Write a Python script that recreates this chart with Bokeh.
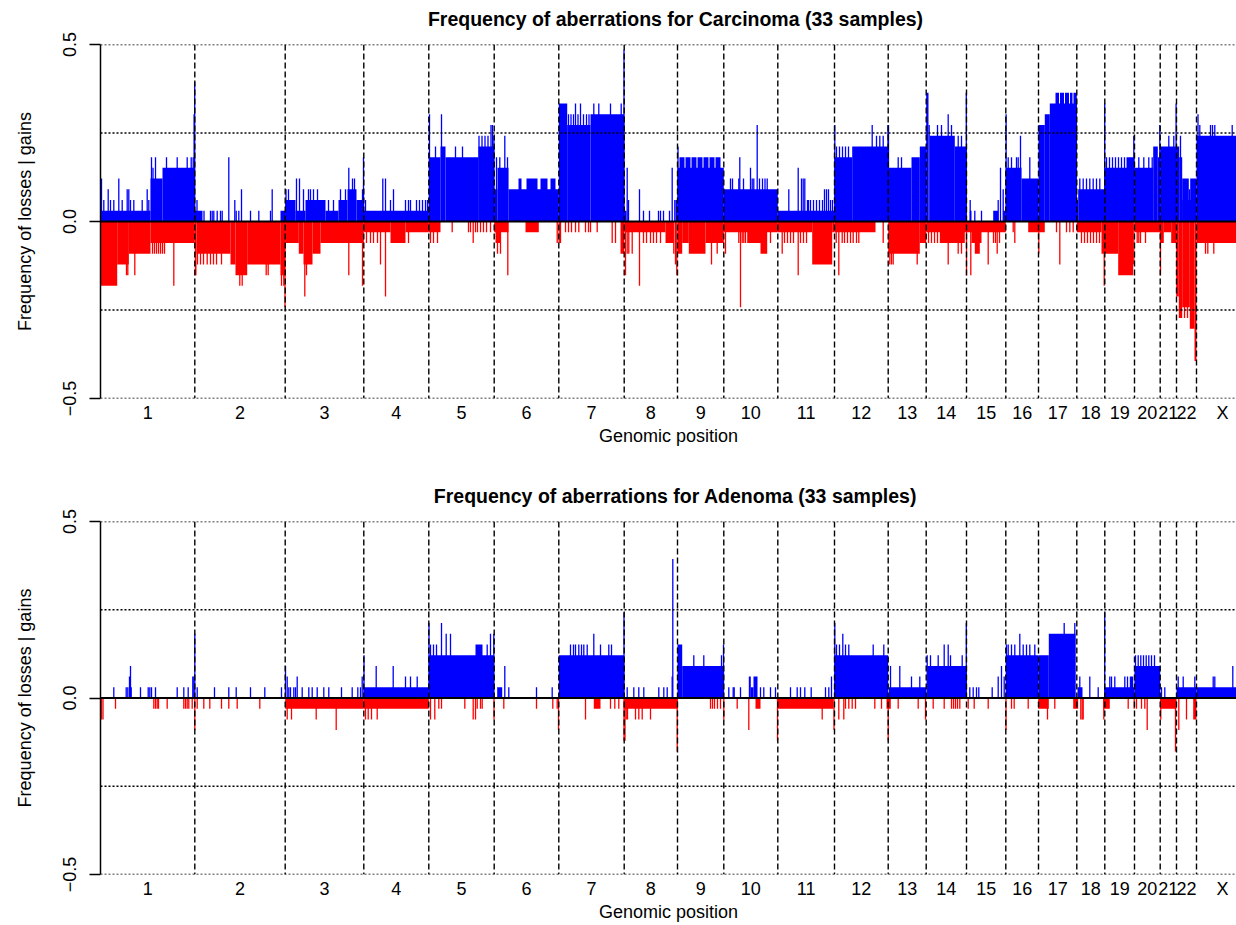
import numpy as np
from bokeh.plotting import figure
from bokeh.models import Range1d, FixedTicker, Span, Label
from bokeh.layouts import column
from bokeh.embed import file_html
from bokeh.resources import INLINE

N_SAMPLES = 33
CHROMS = ["1", "2", "3", "4", "5", "6", "7", "8", "9", "10", "11", "12",
          "13", "14", "15", "16", "17", "18", "19", "20", "21", "22", "X"]
# chromosome extents on the genome-wide index axis
CHROM_LEN = [94.3, 90.4, 78.6, 65.0, 65.4, 64.6, 65.4, 53.3, 46.3, 54.0, 56.7, 53.7,
             38.0, 40.3, 39.3, 32.7, 38.3, 28.0, 29.7, 25.7, 16.3, 20.0, 52.0]
VIEW_END = 1136

TITLES = ["Frequency of aberrations for Carcinoma (33 samples)",
          "Frequency of aberrations for Adenoma (33 samples)"]
Y_TICKS = [-0.5, 0.0, 0.5]
Y_TICK_LABELS = ["\u22120.5", "0.0", "0.5"]
GRID_Y = [0.5, 0.25, -0.25, -0.5]

# (start, end, number of samples) plateaus and (position, number of samples) single probes
CARC_GAIN_SEG = [
    (0, 50, 1), (50, 62, 4), (62, 94.3, 5),
    (94.3, 102, 1), (180, 184.7, 1),
    (184.7, 195, 2), (195, 205, 1), (205, 225, 2), (225, 238, 1), (238, 247, 2), (247, 256, 3), (256, 263.3, 2),
    (263.3, 328.3, 1),
    (328.3, 340, 6), (340, 345, 7), (345, 378, 6), (378, 393.7, 7),
    (393.7, 397, 3), (397, 408, 5), (408, 458.3, 3), (418, 421, 4), (426, 437, 4), (440, 447, 4), (450, 455, 4),
    (458.3, 466.7, 11), (466.7, 490, 9), (490, 523.7, 10),
    (523.7, 526, 1), (575, 577, 2),
    (577, 623.3, 5), (579, 584, 6), (585, 590, 6), (591, 596, 6), (597, 602, 6), (603, 608, 6), (609, 614, 6), (615, 620, 6),
    (623.3, 677.3, 3),
    (677.3, 734, 1),
    (734, 751.7, 6), (751.7, 787.7, 7),
    (787.7, 811, 5), (811, 819.3, 6), (819.3, 825.7, 7),
    (825.7, 828, 12), (828, 829.3, 9), (829.3, 854.3, 8), (854.3, 866, 7),
    (869.3, 871, 1), (892.7, 897.7, 1), (902.7, 905.3, 1),
    (905.3, 921, 5), (921, 938, 4),
    (938, 944.3, 9), (944.3, 949.3, 10), (949.3, 976.3, 11), (955, 958.5, 12), (959.5, 963.5, 12),
    (964.5, 968.5, 12), (969.5, 972, 12), (973, 976.3, 12),
    (976.3, 977.7, 2), (977.7, 1004.3, 3),
    (1004.3, 1034, 5), (1026, 1034, 6),
    (1034, 1052.7, 5), (1052.7, 1057.3, 7), (1057.3, 1059.7, 6),
    (1059.7, 1075.7, 7),
    (1075.7, 1078.7, 7), (1078.7, 1081.7, 6), (1081.7, 1096, 2), (1081.7, 1088.3, 4), (1088.3, 1089.7, 3), (1089.7, 1096, 4),
    (1096, 1148, 8),
]
CARC_GAIN_SPK = [
    (1, 4), (3.3, 2), (7.7, 3), (10, 2), (13.3, 2), (18.3, 4), (21.7, 2), (26.7, 3), (28.3, 3), (30, 2), (33.3, 2),
    (41.7, 2), (46.7, 3), (48.3, 2), (51, 6), (52.5, 5), (55, 6), (66, 6), (76.7, 6), (86.7, 6), (90.7, 6), (92.7, 6),
    (93.6, 10), (94.2, 13),
    (96.5, 2), (103.5, 1), (110, 1), (111.7, 1), (113.3, 1), (116.7, 1), (120, 1), (121.7, 1), (128.3, 6), (134.3, 2),
    (135.7, 1), (138.3, 1), (141, 3), (150, 1), (158.3, 1), (170, 1), (171.7, 3),
    (185.5, 3), (188, 3), (196, 4), (199, 4), (203, 3), (208, 3), (210, 3), (213, 3), (217, 3), (228, 2), (233, 2),
    (240, 3), (245, 3), (248.3, 5), (252, 4), (254, 4), (262, 3), (263, 6),
    (265, 2), (282.3, 4), (285, 4), (290, 2), (293, 3), (305, 2), (308, 2), (310, 2), (316, 2), (319, 2), (322, 2),
    (325, 2), (327, 2),
    (329, 10), (335, 7), (341, 10), (355, 7), (362, 7), (378.5, 8), (381.5, 8), (384.5, 8), (387.5, 8), (390.5, 9),
    (392, 9), (393.4, 8),
    (396, 6), (399.3, 6), (404.3, 8), (407, 6),
    (468, 10), (470.5, 10), (473, 10), (475, 11), (477.5, 10), (480, 11), (483, 10), (486, 10), (488.5, 10),
    (493.3, 11), (498.3, 11), (510, 11), (520.7, 11), (523.5, 16),
    (526.7, 5), (528, 2), (539, 3), (543, 1), (549, 1), (558, 1), (560, 1), (563, 1), (569, 1), (571.7, 5), (574.3, 2),
    (577.5, 7),
    (630, 4), (632, 4), (638.3, 4), (639.3, 6), (643, 4), (650, 5), (651.7, 4), (653.3, 4), (656.7, 9), (659, 4),
    (662, 4), (664.5, 4), (666.7, 4),
    (688.3, 3), (697.7, 5), (701, 4), (702.7, 4), (704.3, 4), (707, 2), (708, 2), (710, 2), (713, 2), (716, 2),
    (719, 2), (722, 2), (724, 3), (726, 3), (728, 3), (730, 2), (732, 2),
    (734.3, 9), (736, 7), (739, 7), (742, 7), (745, 7), (748, 7), (771.7, 9), (776, 8), (779.3, 8), (782.7, 8),
    (787.5, 9),
    (788, 9), (797.7, 6), (801, 6),
    (837, 9), (841, 9), (847.7, 10), (851, 9), (857.7, 8), (861, 8), (865.8, 12),
    (869.7, 2), (874.3, 1), (881, 1), (897.7, 2), (900, 5), (902.7, 3),
    (905.6, 10), (907.7, 6), (911, 6), (916, 6), (917.7, 6), (920, 8), (929.3, 6),
    (979.3, 4), (982.7, 4), (986, 4), (989.3, 4), (992.7, 4), (996, 4), (999.3, 4), (1004.2, 11),
    (1006, 6), (1009, 6), (1012, 6), (1015, 6), (1018, 6), (1021, 6), (1024, 6), (1033.3, 8),
    (1038.3, 6), (1043.3, 6), (1048.3, 6), (1051.7, 6), (1059.3, 9),
    (1068.3, 8), (1073.3, 8), (1075.6, 11),
    (1080, 8),
    (1097.5, 10), (1099.3, 9), (1110, 9), (1112, 9), (1114.3, 9), (1131.7, 9),
]
CARC_LOSS_SEG = [
    (0, 16.7, 6), (16.7, 28.3, 4), (28.3, 50, 3), (50, 94.3, 2),
    (94.3, 96, 5), (96, 130, 3), (130, 135, 4), (135, 146.7, 5), (146.7, 180, 4), (180, 184.7, 5),
    (184.7, 198.3, 2), (198.3, 203, 3), (203, 212, 4), (212, 220, 3), (220, 263.3, 2),
    (263.3, 290, 1), (290, 305, 2), (305, 328.3, 1),
    (328.3, 340, 1),
    (393.7, 408, 1), (395, 400, 2), (425, 438.3, 1),
    (520, 523.7, 3),
    (523.7, 565, 1), (565, 573.3, 2),
    (577, 581.7, 3), (581.7, 588.3, 2), (588.3, 605, 3), (605, 623.3, 2),
    (623.3, 677.3, 1), (646.7, 665, 2), (660, 666.7, 3),
    (677.3, 711.7, 1), (711.7, 731.7, 4), (731.7, 734, 1),
    (734, 775, 1),
    (787.7, 819.3, 3), (819.3, 825.7, 2),
    (825.7, 866, 1), (839.3, 864.3, 2),
    (866, 905.3, 1), (871, 881, 2), (874.3, 879.3, 3),
    (927.7, 944.3, 1),
    (976.3, 1001, 1), (1001, 1004.3, 3),
    (1004.3, 1017.7, 3), (1017.7, 1032.7, 5),
    (1034, 1059.7, 1),
    (1059.7, 1063.3, 2), (1063.3, 1070.7, 1), (1070.7, 1075.7, 2),
    (1075.7, 1078.3, 7), (1078.3, 1081.7, 9), (1081.7, 1089.3, 8), (1089.3, 1094, 10), (1094, 1096, 13),
    (1096, 1148, 2),
]
CARC_LOSS_SPK = [
    (26, 5), (27.3, 5), (34.3, 5), (52, 3), (54, 3), (56, 3), (58, 3), (60, 3), (62, 3), (64, 3), (73.3, 6),
    (97, 4), (100, 4), (103, 4), (106.7, 4), (110, 4), (113, 4), (116, 4), (121, 4), (139.3, 6), (141.7, 6),
    (165.7, 5), (167.7, 5), (181, 6), (183.3, 6), (184.5, 8),
    (204.3, 7), (206, 5), (248.3, 5), (262, 6),
    (266, 2), (270, 2), (273, 2), (277, 2), (280, 4), (285, 7), (308, 2),
    (330, 2), (333, 2), (337, 2), (351.7, 1), (368, 1), (370, 1), (372.7, 2), (375, 1), (377, 1), (380, 1), (383, 1),
    (386, 1), (390, 1),
    (397, 3), (400, 3), (407.3, 5), (456.7, 2),
    (458.7, 2), (460, 2), (465, 1), (468, 1), (471, 1), (475, 1), (478.3, 1), (485, 1), (488, 1), (490, 1),
    (496.7, 1), (511.7, 2), (515, 2),
    (525, 5), (526.7, 3), (528.3, 3), (531.7, 3), (539, 6), (543, 2), (546, 2), (550, 2), (553, 2), (556, 2),
    (560, 2), (573.3, 3), (575, 4), (576.3, 5),
    (611, 4), (616.7, 3),
    (625, 3), (638.3, 2), (640, 8), (641.7, 2), (643.3, 2), (645, 2), (670, 2),
    (681.7, 3), (684, 2), (687, 2), (690, 2), (693, 2), (697.7, 5), (700, 2), (703, 2), (706, 2),
    (735.7, 2), (738.3, 5), (741.7, 2), (744, 2), (747, 2), (750, 2), (752.7, 2), (756, 2), (758.3, 2), (782.7, 2),
    (789.3, 4), (791, 4), (792.7, 4), (816.7, 4),
    (828, 2), (831, 2), (834, 2), (837, 2), (847.7, 4), (857.7, 3), (861, 3), (866, 5),
    (870.3, 5), (887.7, 4), (893, 2), (895, 2), (896.7, 3), (899, 2),
    (912.7, 1), (914.3, 2), (938.3, 3),
    (956, 1), (959.3, 4), (966, 1), (969.3, 1), (972.7, 1),
    (981, 2), (984, 2), (987, 2), (990, 2), (993, 2), (996, 2), (999, 2), (1003.7, 6),
    (1033.3, 4),
    (1036.7, 2), (1038.3, 2), (1040, 2), (1045, 2),
    (1060, 5),
    (1084, 9), (1087, 9),
    (1105, 3), (1107.3, 3), (1113.3, 3),
]

ADEN_GAIN_SEG = [
    (263.3, 328.3, 1),
    (328.3, 393.7, 4), (375, 382, 5),
    (396.7, 401.7, 1),
    (458.3, 523.7, 4),
    (577, 581.7, 5), (581.7, 623.3, 3),
    (648.3, 650.3, 2), (650.3, 653, 1), (653, 657, 2),
    (734, 787.7, 4),
    (788.3, 825.7, 1),
    (826.7, 866, 3),
    (905.3, 938, 4),
    (938, 948.3, 4), (948.3, 975, 6),
    (977, 982, 1),
    (1004.3, 1034, 1), (1029.3, 1032.7, 2),
    (1034, 1059.7, 3),
    (1076, 1096, 1),
    (1096, 1148, 1),
]
ADEN_GAIN_SPK = [
    (13.3, 1), (25.7, 1), (27.3, 1), (29, 2), (30, 3), (30.7, 1), (40, 1), (47.7, 1), (49.3, 1), (51, 1), (55, 1),
    (76.7, 1), (83.3, 1), (87.7, 1), (92.3, 2), (93.3, 2), (94.3, 6),
    (96.7, 1), (114, 1), (128.3, 1), (135.7, 1), (150, 1), (164.3, 1), (181, 1),
    (185, 3), (186.7, 2), (188.3, 1), (190, 1), (193.3, 1), (195, 1), (196.7, 2), (201.7, 1), (208.3, 1),
    (211.7, 1), (216.7, 1), (223.3, 1), (228.3, 1), (241, 1), (251.7, 1), (257.3, 1), (260, 1), (261.7, 2),
    (263.5, 4), (275.7, 3), (292.7, 3), (305, 2), (310, 2), (316.7, 2),
    (328.5, 7), (330, 5), (333, 5), (336, 5), (341, 7), (345.7, 6), (350, 6), (386.7, 5), (390, 6), (393.3, 6),
    (404.3, 3), (408.3, 1), (436, 1), (451.7, 1),
    (470, 5), (473, 5), (475, 5), (478.3, 5), (481, 5), (483.3, 5), (486.7, 5), (493.3, 6), (500, 5), (508.3, 5),
    (511, 5), (523.5, 8),
    (526.7, 1), (533.3, 1), (538.3, 1), (543.3, 1), (558.3, 1), (563.3, 1), (566.7, 1), (571.7, 2), (572.3, 13),
    (593.3, 4), (603.3, 4), (621, 4), (623, 5),
    (628.3, 1), (632.7, 1), (633.7, 1), (640, 1), (660, 1), (663.3, 1), (670, 1), (675, 1),
    (690, 1), (696.7, 1), (700, 1), (704.3, 1), (710.7, 1), (725, 1), (728.3, 1), (731, 2),
    (734.3, 7), (736, 5), (739, 5), (742.3, 6), (745, 5), (748.3, 5), (772.7, 5), (783.3, 5),
    (790, 3), (799.3, 3), (811, 2), (819.3, 2),
    (826.7, 4), (830, 4), (837.7, 4), (843.7, 5), (847.7, 5), (850, 4), (861.7, 4), (865.8, 7),
    (869.3, 1), (872.7, 1), (876, 1), (878.3, 1), (891.7, 1), (897.7, 2), (901, 3), (903.7, 2),
    (906, 5), (907.7, 5), (911, 5), (914.3, 5), (919.3, 6), (922.7, 5), (926, 5), (929.3, 5), (934.3, 5),
    (963.7, 7), (974.3, 7),
    (979.3, 2), (989.3, 2), (997.7, 1), (1004.2, 8),
    (1009.3, 2), (1011, 2), (1014.3, 2), (1024.3, 2), (1027, 2),
    (1035, 4), (1037.7, 4), (1040.3, 4), (1043, 4), (1045.7, 4), (1048.3, 4), (1051, 4), (1054, 4),
    (1061, 1), (1064.3, 1),
    (1077.7, 2), (1082.7, 2), (1094.3, 2),
    (1112.7, 2), (1114.3, 2), (1132.3, 3),
]
ADEN_LOSS_SEG = [
    (184.7, 263.3, 1),
    (263.3, 328.3, 1),
    (493.3, 500, 1),
    (523.7, 577, 1),
    (655, 660, 1),
    (677.3, 733, 1),
    (786, 790.3, 1),
    (937.7, 948.3, 1),
    (972.7, 977.7, 1),
    (1002.7, 1009.3, 1),
    (1059.7, 1076, 1),
    (1092.7, 1096, 2),
]
ADEN_LOSS_SPK = [
    (1, 2), (2.5, 2), (15, 1), (53.3, 1), (55, 1), (56.7, 1), (58, 1), (66.7, 1), (83.3, 1), (85, 1), (86.7, 1),
    (88.3, 1), (91.7, 1), (94.3, 3),
    (96.7, 1), (103.3, 1), (109.3, 1), (121, 1), (128.3, 1), (136.7, 1), (159.3, 1),
    (186.7, 2), (191, 2), (215.7, 2), (235.7, 3),
    (265, 2), (267.7, 2), (271, 2), (276.7, 2),
    (330, 2), (334.3, 2), (338.3, 1), (341, 1), (364.3, 1), (372.7, 2), (375, 2), (376.7, 1), (380, 1), (381.7, 1),
    (393.5, 2), (403.3, 1), (436, 1), (452.3, 1), (456.7, 1), (458, 3),
    (485, 2), (510, 1), (514.3, 1), (518.3, 1), (523.5, 4),
    (524.5, 4), (525.7, 2), (527, 2), (535, 2), (538.3, 2), (541.7, 2), (550, 2), (576.7, 5),
    (610, 1), (612, 1), (614, 1), (617, 1), (620, 1), (623.3, 2),
    (636.7, 1), (648.3, 3), (677, 4),
    (721.7, 2), (733.5, 3),
    (738.3, 2), (743.3, 2), (745, 1), (748.3, 1), (751.7, 1), (755, 1), (774.3, 1), (781, 1),
    (787.7, 4), (797.7, 1), (817.7, 1), (825, 2),
    (832.7, 1), (843.7, 1), (851, 1), (853, 1), (855, 1), (857, 1), (859.3, 1),
    (867.7, 1), (873.7, 1), (887.7, 1),
    (905.5, 3), (911, 1), (913.7, 1), (927.7, 1),
    (947, 2), (954.3, 1),
    (980.3, 2), (981.7, 2), (982.7, 2),
    (1003.3, 2), (1027.7, 1), (1033.7, 1),
    (1036, 1), (1041, 1), (1044.3, 1), (1046.7, 3),
    (1060.3, 2),
    (1075, 5), (1078.3, 3), (1086, 2),
]

FONT = "Liberation Sans"
GAIN_COLOR = "#0000FF"
LOSS_COLOR = "#FF0000"
PAGE_W = 1236
LEFT = 100

bounds = np.concatenate([[0.0], np.cumsum(CHROM_LEN)])
centers = [float(v) for v in (bounds[:-1] + bounds[1:]) / 2]


def make_title(text, height, center_from_top):
    # title strip: its frame spans page pixels LEFT..PAGE_W, so x is in page pixels
    t = figure(width=PAGE_W, height=height, x_range=Range1d(LEFT, PAGE_W), y_range=Range1d(0, height),
               output_backend="svg", toolbar_location=None, x_axis_location=None, y_axis_location=None,
               min_border_left=LEFT, min_border_right=0, min_border_top=0, min_border_bottom=0)
    t.outline_line_color = None
    t.xgrid.visible = False
    t.ygrid.visible = False
    t.add_layout(Label(x=675, y=height - center_from_top, text=text, text_align="center",
                       text_baseline="middle", text_font=FONT, text_font_size="19.5px",
                       text_font_style="bold", text_color="black"))
    return t


def make_panel(gain_seg, gain_spk, loss_seg, loss_spk, height, top, bottom):
    p = figure(width=PAGE_W, height=height, x_range=Range1d(0, VIEW_END), y_range=Range1d(-0.5, 0.5),
               output_backend="svg", toolbar_location=None,
               min_border_left=LEFT, min_border_right=0, min_border_top=top, min_border_bottom=bottom)
    p.outline_line_color = None
    p.xgrid.visible = False
    p.ygrid.visible = False

    # gains
    p.quad(left=[s[0] for s in gain_seg], right=[s[1] for s in gain_seg],
           bottom=0, top=[s[2] / N_SAMPLES for s in gain_seg],
           fill_color=GAIN_COLOR, line_color=None)
    p.segment(x0=[s[0] for s in gain_spk], x1=[s[0] for s in gain_spk], y0=0,
              y1=[s[1] / N_SAMPLES for s in gain_spk], line_color=GAIN_COLOR, line_width=1.3)
    # losses
    p.quad(left=[s[0] for s in loss_seg], right=[s[1] for s in loss_seg],
           top=0, bottom=[-s[2] / N_SAMPLES for s in loss_seg],
           fill_color=LOSS_COLOR, line_color=None)
    p.segment(x0=[s[0] for s in loss_spk], x1=[s[0] for s in loss_spk], y0=0,
              y1=[-s[1] / N_SAMPLES for s in loss_spk], line_color=LOSS_COLOR, line_width=1.3)

    for y in GRID_Y:
        p.add_layout(Span(location=y, dimension="width", line_color="black",
                          line_dash="2 2", line_width=1.7))
    for b in bounds[1:-1]:
        p.add_layout(Span(location=float(b), dimension="height", line_color="black",
                          line_dash="6 3", line_width=1.4))
    p.add_layout(Span(location=0, dimension="width", line_color="black", line_width=2))

    xa = p.xaxis[0]
    xa.ticker = FixedTicker(ticks=centers)
    xa.major_label_overrides = {c: n for c, n in zip(centers, CHROMS)}
    xa.axis_line_color = None
    xa.major_tick_line_color = None
    xa.major_tick_out = 0
    xa.major_tick_in = 0
    xa.minor_tick_line_color = None
    xa.minor_tick_out = 0
    xa.major_label_standoff = 4
    xa.major_label_text_color = "black"
    xa.major_label_text_font = FONT
    xa.major_label_text_font_size = "18px"
    xa.axis_label = "Genomic position"
    xa.axis_label_text_color = "black"
    xa.axis_label_text_font = FONT
    xa.axis_label_text_font_size = "18px"
    xa.axis_label_text_font_style = "normal"
    xa.axis_label_standoff = 0

    ya = p.yaxis[0]
    ya.ticker = FixedTicker(ticks=Y_TICKS)
    ya.major_label_overrides = {t: l for t, l in zip(Y_TICKS, Y_TICK_LABELS)}
    ya.major_label_orientation = "vertical"
    ya.axis_line_width = 1.5
    ya.axis_line_color = "black"
    ya.major_tick_line_width = 1.5
    ya.major_tick_line_color = "black"
    ya.major_tick_out = 11
    ya.major_tick_in = 0
    ya.minor_tick_line_color = None
    ya.major_label_standoff = 14
    ya.major_label_text_color = "black"
    ya.major_label_text_font = FONT
    ya.major_label_text_font_size = "18px"
    ya.axis_label = "Frequency of losses | gains"
    ya.axis_label_text_color = "black"
    ya.axis_label_text_font = FONT
    ya.axis_label_text_font_size = "18px"
    ya.axis_label_text_font_style = "normal"
    ya.axis_label_standoff = 25
    return p


t1 = make_title(TITLES[0], 30, 18)
p1 = make_panel(CARC_GAIN_SEG, CARC_GAIN_SPK, CARC_LOSS_SEG, CARC_LOSS_SPK, 428, 14, 60)
t2 = make_title(TITLES[1], 50, 37)
p2 = make_panel(ADEN_GAIN_SEG, ADEN_GAIN_SPK, ADEN_LOSS_SEG, ADEN_LOSS_SPK, 416, 13, 49)

layout = column(t1, p1, t2, p2)
open("out.html", "w").write(file_html(layout, INLINE))
